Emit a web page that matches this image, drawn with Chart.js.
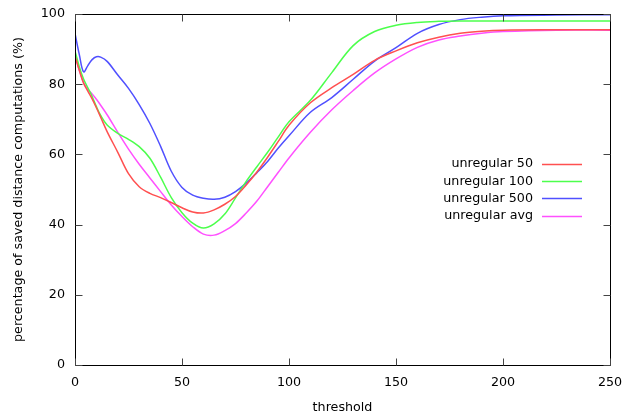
<!DOCTYPE html>
<html>
<head>
<meta charset="utf-8">
<script src="https://cdn.jsdelivr.net/npm/chart.js@4"></script>
<style>
  html, body { margin: 0; padding: 0; background: #fff; }
  #wrap { width: 624px; height: 419px; position: relative; }
</style>
</head>
<body>
<div id="wrap"><canvas id="chart"></canvas></div>
<script>
// data
const thresholds = [0, 2, 4, 6, 8, 10, 12, 15, 20, 25, 30, 35, 40, 45, 50, 55, 60, 65, 70, 75, 80, 85, 90, 95,
    100, 110, 120, 130, 140, 150, 160, 170, 180, 190, 200, 225, 250];
const unregular50 = [88, 84, 80.3, 78, 75.8, 73.3, 70.6, 66.5, 60.6, 54.5, 50.8, 48.9, 47.7, 46.3, 44.8, 43.6, 43.3, 44.2, 45.8, 48, 51.3, 55, 59.2, 63.7,
    68.3, 74.7, 79, 82.8, 86.8, 89.5, 91.8, 93.4, 94.5, 95.1, 95.4, 95.5, 95.5];
const unregular100 = [89.5, 85, 81.5, 79, 76.5, 73.6, 71.1, 68.4, 66, 64.3, 62.2, 58.9, 53.5, 47.7, 43.4, 40.4, 39, 40.2, 43, 47.6, 52.3, 56.5, 60.6, 65,
    69.3, 75.4, 83.3, 91, 95, 96.8, 97.6, 97.9, 98, 98, 98, 98, 98];
const unregular500 = [94.5, 88.5, 83.5, 85.3, 87, 87.8, 87.7, 86.5, 82.6, 78.8, 74.2, 68.8, 62.3, 55.2, 50.6, 48.4, 47.5, 47.2, 47.8, 49.4, 51.8, 54.8, 58, 61.8,
    65.3, 72, 76.2, 81.4, 86.6, 90.4, 94.5, 97, 98.4, 99.1, 99.5, 99.7, 99.8];
const unregularAvg = [88.5, 84, 80.5, 78.5, 77.2, 75.7, 74, 71.3, 66.3, 61.5, 57.2, 53.3, 49.4, 45.6, 42.3, 39.4, 37.3, 37, 38.3, 40.3, 43.3, 46.7, 50.8, 54.9,
    59, 66.3, 72.7, 78.2, 83.2, 87.2, 90.5, 92.6, 93.7, 94.5, 95, 95.4, 95.4];

const seriesLabels = ['unregular 50', 'unregular 100', 'unregular 500', 'unregular avg'];
const seriesColors = ['#ff5050', '#4cff4c', '#5050ff', '#ff50ff'];
const xTicks = [0, 50, 100, 150, 200, 250];
const yTicks = [0, 20, 40, 60, 80, 100];

const FONT = 'DejaVu Sans';
const FSIZE = 12.7;

function toPoints(values) {
    return thresholds.map((t, i) => ({ x: t, y: values[i] }));
}

// border, inward ticks and legend in gnuplot style
const gnuplotFrame = {
    id: 'gnuplotFrame',
    afterDatasetsDraw(chart) {
        const ctx = chart.ctx;
        const a = chart.chartArea;
        const xs = chart.scales.x;
        const ys = chart.scales.y;
        ctx.save();
        ctx.strokeStyle = '#000';
        ctx.lineWidth = 1;
        const L = Math.round(a.left) + 0.5, R = Math.round(a.right) + 0.5;
        const T = Math.round(a.top) + 0.5, B = Math.round(a.bottom) + 0.5;
        ctx.beginPath();
        ctx.rect(L, T, R - L, B - T);
        ctx.stroke();

        ctx.strokeStyle = '#444';
        ctx.beginPath();
        xTicks.forEach(v => {
            const px = Math.round(xs.getPixelForValue(v)) + 0.5;
            ctx.moveTo(px, B); ctx.lineTo(px, B - 7);
            ctx.moveTo(px, T); ctx.lineTo(px, T + 7);
        });
        yTicks.forEach(v => {
            const py = Math.round(ys.getPixelForValue(v)) + 0.5;
            ctx.moveTo(L, py); ctx.lineTo(L + 7, py);
            ctx.moveTo(R, py); ctx.lineTo(R - 7, py);
        });
        ctx.stroke();

        // legend (text right aligned, sample line on the right)
        ctx.font = FSIZE + 'px "' + FONT + '"';
        ctx.textAlign = 'right';
        ctx.textBaseline = 'middle';
        chart.data.datasets.forEach((ds, i) => {
            const y = 164 + i * 17.2;
            ctx.fillStyle = '#000';
            ctx.fillText(ds.label, 533, y);
            ctx.strokeStyle = ds.borderColor;
            ctx.lineWidth = 1.5;
            ctx.beginPath();
            ctx.moveTo(542, Math.round(y) + 0.5);
            ctx.lineTo(582, Math.round(y) + 0.5);
            ctx.stroke();
        });
        ctx.restore();
    }
};

const allSeries = [unregular50, unregular100, unregular500, unregularAvg];

new Chart(document.getElementById('chart'), {
    type: 'line',
    data: {
        datasets: allSeries.map((vals, i) => ({
            label: seriesLabels[i],
            data: toPoints(vals),
            borderColor: seriesColors[i],
            borderWidth: 1.5,
            pointRadius: 0,
            fill: false,
            tension: 0.35
        }))
    },
    options: {
        responsive: true,
        maintainAspectRatio: false,
        animation: false,
        layout: { padding: { top: 14, right: 14, left: 0, bottom: 0 } },
        plugins: {
            legend: { display: false },
            tooltip: { enabled: false }
        },
        scales: {
            x: {
                type: 'linear',
                min: 0,
                max: 250,
                border: { display: false },
                grid: { display: false, drawTicks: false },
                afterBuildTicks: scale => { scale.ticks = xTicks.map(v => ({ value: v })); },
                afterFit: scale => {
                    scale.height = 54;
                    scale.paddingLeft = 0;
                    scale.paddingRight = 0;
                },
                ticks: {
                    padding: 10,
                    color: '#000',
                    font: { family: FONT, size: FSIZE },
                    maxRotation: 0
                },
                title: {
                    display: true,
                    text: 'threshold',
                    color: '#000',
                    font: { family: FONT, size: FSIZE },
                    padding: { top: 0, bottom: 4 }
                }
            },
            y: {
                min: 0,
                max: 100,
                border: { display: false },
                grid: { display: false, drawTicks: false },
                afterBuildTicks: scale => { scale.ticks = yTicks.map(v => ({ value: v })); },
                afterFit: scale => {
                    scale.width = 75;
                    scale.paddingTop = 0;
                    scale.paddingBottom = 0;
                },
                ticks: {
                    padding: 10,
                    color: '#000',
                    font: { family: FONT, size: FSIZE }
                },
                title: {
                    display: true,
                    text: 'percentage of saved distance computations (%)',
                    color: '#000',
                    font: { family: FONT, size: FSIZE },
                    padding: { top: 11, bottom: 0 }
                }
            }
        }
    },
    plugins: [gnuplotFrame]
});
</script>
</body>
</html>
